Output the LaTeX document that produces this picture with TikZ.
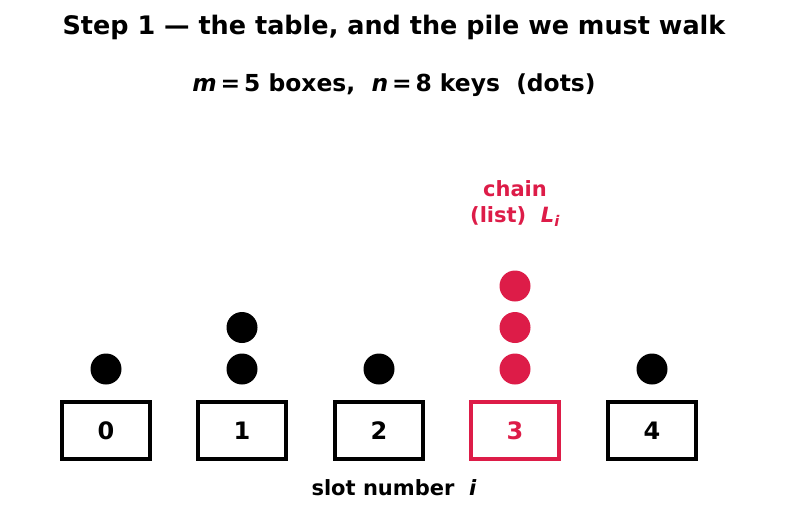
\documentclass[tikz,border=0pt]{standalone}
\usepackage{fontspec}
\setmainfont{DejaVu Sans}
\definecolor{chainred}{RGB}{221,28,72}
\tikzset{
  slotbox/.style={draw, line width=4.5pt, minimum width=88pt, minimum height=57pt, inner sep=0pt,
    font=\bfseries\fontsize{24}{28}\selectfont},
  key/.style={circle, fill, minimum size=31pt, inner sep=0pt},
}
\begin{document}
\begin{tikzpicture}[x=1pt, y=-1pt]
  \useasboundingbox (0,0) rectangle (787,512);
  \node[font=\bfseries\fontsize{25.5}{30}\selectfont] (title) at (394,27) {Step 1 — the table, and the pile we must walk};
  \node[font=\bfseries\fontsize{23.4}{27}\selectfont] (sub) at (394,85) {\textit{m}\,=\,5 boxes,\ \ \textit{n}\,=\,8 keys\ \ (dots)};
  \node[slotbox] (s0) at (106,430.5) {0};
  \node[slotbox] (s1) at (242,430.5) {1};
  \node[slotbox] (s2) at (379,430.5) {2};
  \node[slotbox, draw=chainred, text=chainred] (s3) at (515,430.5) {3};
  \node[slotbox] (s4) at (652,430.5) {4};
  \node[key] (k0a) at (106,369) {};
  \node[key] (k1a) at (242,369) {};
  \node[key] (k1b) at (242,327.5) {};
  \node[key] (k2a) at (379,369) {};
  \node[key, fill=chainred] (k3a) at (515,369) {};
  \node[key, fill=chainred] (k3b) at (515,327.5) {};
  \node[key, fill=chainred] (k3c) at (515,286) {};
  \node[key] (k4a) at (652,369) {};
  \node[font=\bfseries\fontsize{21}{26}\selectfont, text=chainred, align=center] (chain) at (515,204) {chain\\(list)\ \ \textit{L\textsubscript{i}}};
  \node[font=\bfseries\fontsize{21}{25}\selectfont] (axis) at (394,488) {slot number\ \ \textit{i}};
\end{tikzpicture}
\end{document}
